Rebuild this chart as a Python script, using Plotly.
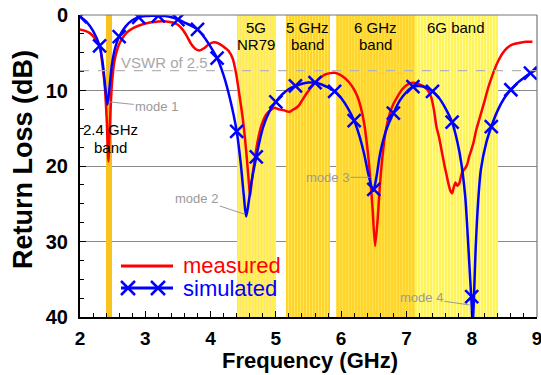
import math
import plotly.graph_objects as go

# ---------------- data ----------------
meas_freq = [2.00, 2.08, 2.15, 2.22, 2.28, 2.31, 2.34, 2.38, 2.41, 2.435, 2.46, 2.49, 2.53, 2.58, 2.64,
             2.72, 2.82, 2.95, 3.07, 3.20, 3.32, 3.42, 3.50, 3.57, 3.63, 3.70, 3.77, 3.83, 3.90, 3.97,
             4.05, 4.12, 4.20, 4.28, 4.34, 4.39, 4.44, 4.49, 4.54, 4.58, 4.605, 4.63, 4.67, 4.72, 4.78,
             4.85, 4.92, 4.98, 5.05, 5.12, 5.18, 5.22, 5.27, 5.31, 5.36, 5.41, 5.47, 5.53, 5.60, 5.67,
             5.75, 5.83, 5.90, 5.98, 6.05, 6.12, 6.18, 6.25, 6.30, 6.35, 6.40, 6.44, 6.48, 6.52, 6.56,
             6.59, 6.63, 6.68, 6.74, 6.80, 6.87, 6.93, 7.00, 7.07, 7.13, 7.20, 7.27, 7.33, 7.38, 7.42,
             7.46, 7.50, 7.54, 7.58, 7.61, 7.64, 7.67, 7.70, 7.72, 7.75, 7.78, 7.81, 7.84, 7.87, 7.90,
             7.93, 7.96, 7.99, 8.03, 8.07, 8.11, 8.15, 8.20, 8.25, 8.30, 8.35, 8.40, 8.47, 8.55, 8.63,
             8.72, 8.83, 8.93]
meas_rl = [1.9, 2.1, 2.4, 3.0, 3.8, 4.4, 6.3, 9.5, 14.0, 19.4, 14.0, 9.0, 6.0, 4.3, 3.2,
           2.3, 1.7, 1.25, 1.0, 0.85, 0.85, 1.0, 1.3, 1.9, 2.7, 3.8, 4.5, 4.7, 4.4, 3.9,
           3.6, 3.75, 4.2, 4.8, 5.8, 7.7, 10.5, 13.5, 17.5, 21.5, 24.0, 22.0, 19.5, 16.8, 14.6,
           13.2, 12.6, 12.3, 12.5, 12.6, 12.8, 12.8, 12.5, 12.3, 11.9, 11.2, 10.4, 9.7, 9.0, 8.4,
           7.9, 7.7, 7.65, 7.9, 8.3, 8.9, 9.6, 10.8, 12.2, 14.2, 17.5, 21.0, 25.5, 30.6, 27.0,
           23.0, 19.0, 15.5, 13.2, 11.8, 10.7, 9.9, 9.3, 9.0, 9.0, 9.2, 9.5, 10.0, 10.9, 12.5,
           14.8, 16.2, 18.0, 19.8, 21.0, 22.2, 23.2, 23.6, 23.0, 22.2, 22.6, 22.3, 21.2, 20.6, 20.3,
           19.8, 18.8, 18.0, 16.8, 15.2, 14.0, 12.8, 11.3, 9.7, 8.4, 7.2, 6.2, 5.1, 4.3, 3.9,
           3.7, 3.55, 3.55]

sim_freq = [2.00, 2.10, 2.20, 2.30, 2.35, 2.39, 2.42, 2.45, 2.49, 2.54, 2.60, 2.70, 2.80, 2.90, 3.00,
            3.10, 3.20, 3.30, 3.40, 3.50, 3.60, 3.70, 3.80, 3.90, 4.00, 4.10, 4.20, 4.30, 4.40, 4.46,
            4.51, 4.545, 4.58, 4.62, 4.70, 4.80, 4.90, 5.00, 5.10, 5.20, 5.30, 5.40, 5.50, 5.60, 5.70,
            5.80, 5.90, 6.00, 6.10, 6.20, 6.28, 6.35, 6.42, 6.49, 6.54, 6.60, 6.70, 6.80, 6.90, 7.00,
            7.10, 7.20, 7.30, 7.40, 7.50, 7.60, 7.70, 7.78, 7.84, 7.90, 7.94, 7.97, 8.00, 8.015, 8.03,
            8.06, 8.10, 8.14, 8.22, 8.30, 8.40, 8.50, 8.60, 8.70, 8.80, 8.90, 9.00]
sim_rl = [0.2, 0.9, 2.1, 4.1, 6.5, 9.8, 11.9, 9.8, 6.5, 4.3, 2.85, 1.5, 0.7, 0.3, 0.15,
          0.1, 0.1, 0.15, 0.3, 0.6, 1.0, 1.4, 1.9, 2.9, 4.2, 5.7, 8.0, 11.2, 15.4, 19.5,
          24.0, 26.7, 25.0, 22.5, 18.8, 15.0, 12.8, 11.5, 10.5, 9.8, 9.4, 9.1, 8.95, 8.95, 9.2,
          9.6, 10.1, 11.0, 12.3, 14.0, 16.0, 18.3, 21.2, 23.3, 21.5, 18.2, 15.0, 13.0, 11.3, 10.2,
          9.5, 9.4, 9.6, 10.1, 11.0, 12.4, 14.2, 16.8, 19.6, 24.0, 29.4, 34.0, 38.5, 41.0, 38.5,
          31.0, 24.5, 20.5, 17.0, 14.8, 12.6, 11.0, 9.9, 9.0, 8.3, 7.7, 7.2]

sim_mark_freq = [2.0, 2.3, 2.6, 2.9, 3.2, 3.5, 3.8, 4.1, 4.4, 4.7, 5.0, 5.3, 5.6, 5.9, 6.2, 6.5,
                 6.8, 7.1, 7.4, 7.7, 8.0, 8.3, 8.6, 8.9]
sim_mark_rl = [0.2, 4.1, 2.85, 0.3, 0.1, 0.6, 1.9, 5.7, 15.4, 18.8, 11.5, 9.4, 8.95, 10.1, 14.0, 23.1,
               13.0, 9.5, 10.1, 14.2, 37.3, 14.8, 9.9, 7.7]

band_names = ["2.4 GHz\nband", "5G\nNR79", "5 GHz\nband", "6 GHz\nband", "6G band"]
band_start = [2.4, 4.4, 5.15, 5.925, 7.125]
band_end = [2.4835, 5.0, 5.825, 7.125, 8.4]
band_bg = ["#fbc41b", "#fff255", "#ffd42c", "#ffd52e", "#fff35a"]
band_fg = ["#f8c020", "#ffe27e", "#ffe85a", "#fde14a", "#fffa9c"]

vswr = 2.5
vswr_rl = 20 * math.log10((vswr + 1) / (vswr - 1))

x_ticks = [2, 3, 4, 5, 6, 7, 8, 9]
y_ticks = [0, 10, 20, 30, 40]

FONT = "Liberation Sans, Arial, sans-serif"
GRAY = "#9a9a9a"

# plot area in pixels (for paper-coordinate decorations)
L, R, T, B = 80, 537, 15, 317


def px_x(p):
    return (p - L) / (R - L)


def px_y(p):
    return (B - p) / (B - T)


fig = go.Figure()

# frequency bands as striped bars
for s, e, bg, fg in zip(band_start, band_end, band_bg, band_fg):
    fig.add_trace(go.Bar(
        x=[(s + e) / 2], y=[40], base=[0], width=[e - s],
        marker=dict(color=bg, line=dict(width=0),
                    pattern=dict(shape="|", fgcolor=fg, bgcolor=bg, size=3, solidity=0.35,
                                 fillmode="replace")),
        hoverinfo="skip", showlegend=False))

fig.add_trace(go.Scatter(x=meas_freq, y=meas_rl, mode="lines",
                         line=dict(color="#ff0000", width=2.5, shape="spline", smoothing=0.6),
                         name="measured"))
fig.add_trace(go.Scatter(x=sim_freq, y=sim_rl, mode="lines",
                         line=dict(color="#0000ff", width=2.5, shape="spline", smoothing=0.8),
                         name="simulated"))
fig.add_trace(go.Scatter(x=sim_mark_freq, y=sim_mark_rl, mode="markers",
                         marker=dict(symbol="x-thin", size=13, color="#0000ff",
                                     line=dict(color="#0000ff", width=2.5)),
                         showlegend=False))

shapes = []
# VSWR reference line
shapes.append(dict(type="line", xref="paper", x0=0, x1=1, yref="y", y0=vswr_rl, y1=vswr_rl,
                   line=dict(color="#b4b4b4", width=1.3, dash="dash"), layer="above"))
# top and right frame
shapes.append(dict(type="line", xref="paper", yref="paper", x0=0, x1=1, y0=1, y1=1,
                   line=dict(color="#777777", width=1.2), layer="above"))
shapes.append(dict(type="line", xref="paper", yref="paper", x0=1, x1=1, y0=0, y1=1,
                   line=dict(color="#777777", width=1.2), layer="above"))
# custom legend samples
shapes.append(dict(type="line", xref="paper", yref="paper", x0=px_x(121), x1=px_x(173),
                   y0=px_y(266), y1=px_y(266), line=dict(color="#ff0000", width=3), layer="above"))
shapes.append(dict(type="line", xref="paper", yref="paper", x0=px_x(121), x1=px_x(173),
                   y0=px_y(288), y1=px_y(288), line=dict(color="#0000ff", width=3), layer="above"))
for cx in (128, 158):
    for dy in (-1, 1):
        shapes.append(dict(type="line", xref="paper", yref="paper",
                           x0=px_x(cx - 7), x1=px_x(cx + 7),
                           y0=px_y(288 - 7 * dy), y1=px_y(288 + 7 * dy),
                           line=dict(color="#0000ff", width=2.5), layer="above"))

annotations = []
# legend text
annotations.append(dict(xref="paper", yref="paper", x=px_x(181), y=px_y(265), text="measured",
                        showarrow=False, xanchor="left", yanchor="middle",
                        font=dict(family=FONT, size=22, color="#ff0000")))
annotations.append(dict(xref="paper", yref="paper", x=px_x(181), y=px_y(288), text="simulated",
                        showarrow=False, xanchor="left", yanchor="middle",
                        font=dict(family=FONT, size=22, color="#0000ff")))

# band labels
for i, (name, s, e) in enumerate(zip(band_names, band_start, band_end)):
    lines = name.split("\n")
    if i == 0:
        ys = [129.5, 147]
        cx = (s + e) / 2 + 0.02
    else:
        ys = [27.5, 44]
        cx = (s + e) / 2
    for ln, yy in zip(lines, ys):
        annotations.append(dict(xref="x", yref="paper", x=cx, y=px_y(yy), text=ln,
                                showarrow=False, xanchor="center", yanchor="middle",
                                font=dict(family=FONT, size=15, color="#000000")))

# VSWR label
annotations.append(dict(xref="x", yref="y", x=3.3, y=6.3, text="VSWR of 2.5", showarrow=False,
                        xanchor="center", yanchor="middle",
                        font=dict(family=FONT, size=15, color="#a8a8a8")))

# mode labels
modes = [("mode 1", 2.44, 11.5, 48, 5), ("mode 2", 4.525, 26.4, -48, -16),
         ("mode 3", 6.434, 21.5, -42, 0), ("mode 4", 7.963, 38.4, -48, -7)]
for txt, mx, my, ax, ay in modes:
    annotations.append(dict(xref="x", yref="y", x=mx, y=my, text=txt, showarrow=True,
                            arrowhead=0, arrowwidth=1, arrowcolor="#999999", ax=ax, ay=ay,
                            standoff=0, xanchor="center", yanchor="middle",
                            font=dict(family=FONT, size=13, color=GRAY)))

# axis titles
annotations.append(dict(xref="paper", yref="paper", x=px_x(309.5), y=px_y(360),
                        text="<b>Frequency (GHz)</b>", showarrow=False,
                        xanchor="center", yanchor="middle",
                        font=dict(family=FONT, size=22, color="#000000")))
annotations.append(dict(xref="paper", yref="paper", x=px_x(23), y=px_y(160),
                        text="<b>Return Loss (dB)</b>", showarrow=False, textangle=-90,
                        xanchor="center", yanchor="middle",
                        font=dict(family=FONT, size=27, color="#000000")))

fig.update_layout(
    width=541, height=375,
    margin=dict(l=L, r=541 - R, t=T, b=375 - B, autoexpand=False),
    paper_bgcolor="white", plot_bgcolor="white",
    showlegend=False, barmode="overlay", bargap=0,
    shapes=shapes, annotations=annotations,
    font=dict(family=FONT),
)
fig.update_xaxes(range=[2, 9], tickvals=x_ticks, ticktext=[str(v) for v in x_ticks],
                 automargin=False, ticklabeloverflow="allow", ticklabelstandoff=3,
                 ticks="inside", ticklen=6, tickwidth=1.2, tickcolor="#000000",
                 showline=True, linecolor="#000000", linewidth=1.6, showgrid=False, zeroline=False,
                 minor=dict(dtick=0.2, ticks="inside", ticklen=4, tickcolor="#000000", tickwidth=1),
                 tickfont=dict(family=FONT, size=19, color="#000000", weight="bold"))
fig.update_yaxes(range=[40, 0], tickvals=y_ticks, ticktext=[str(v) for v in y_ticks],
                 automargin=False, ticklabeloverflow="allow",
                 ticks="inside", ticklen=6, tickwidth=1.2, tickcolor="#000000",
                 showline=True, linecolor="#000000", linewidth=2, zeroline=False,
                 showgrid=True, gridcolor="#8a8a8a", gridwidth=1,
                 minor=dict(dtick=2.5, ticks="inside", ticklen=4, tickcolor="#000000", tickwidth=1,
                            showgrid=False),
                 ticklabelstandoff=6,
                 tickfont=dict(family=FONT, size=20, color="#000000", weight="bold"))

fig.write_html("out.html", config={"displayModeBar": False},
               post_script="document.body.style.margin='0';document.body.style.padding='0';")
